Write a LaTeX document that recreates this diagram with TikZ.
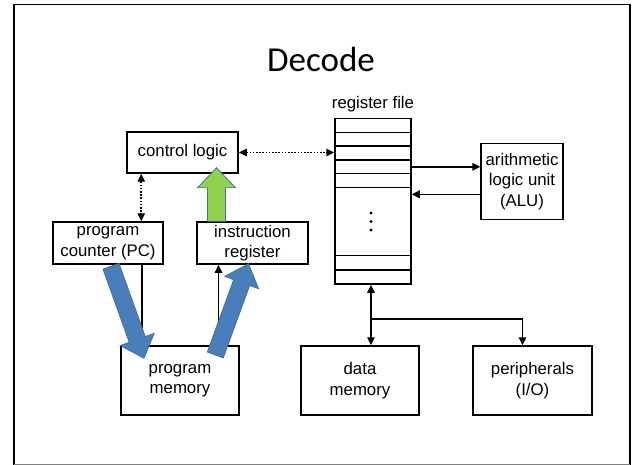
\documentclass[tikz,border=0pt]{standalone}
\usepackage{fontspec}
\setmainfont{Liberation Sans}
\newfontfamily\titlefont{Carlito}
\usetikzlibrary{arrows.meta,calc}

\definecolor{arrowblue}{HTML}{4A7EBB}
\definecolor{arrowedge}{HTML}{41719C}
\definecolor{arrowgreen}{HTML}{92D050}

% Block arrow from #1 (tail centre) to #2 (tip):
% #3 shaft half width, #4 head half width, #5 head length, #6 style
\newcommand\blockarrow[6]{%
  \coordinate (ba-h) at ($(#2)!#5!(#1)$);
  \draw[#6] ($(#1)!#3!90:(#2)$) -- ($(ba-h)!#3!90:(#2)$) -- ($(ba-h)!#4!90:(#2)$)
    -- (#2) -- ($(ba-h)!#4!-90:(#2)$) -- ($(ba-h)!#3!-90:(#2)$)
    -- ($(#1)!#3!-90:(#2)$) -- cycle;
}

\begin{document}
\begin{tikzpicture}[x=1pt,y=-1pt,
  box/.style={draw, line width=1.5pt, inner sep=0pt, align=center,
    font=\fontsize{16.8}{20.5}\selectfont},
  lbl/.style={inner sep=0pt, font=\fontsize{16.8}{20.5}\selectfont},
  conn/.style={line width=1.5pt},
  tip/.style={-{Triangle[length=8pt,width=7.5pt]}},
  tips/.style={{Triangle[length=8pt,width=7.5pt]}-{Triangle[length=8pt,width=7.5pt]}},
  dots/.style={line width=1.6pt, dash pattern=on 1.6pt off 1.6pt},
  bluearrow/.style={fill=arrowblue, draw=arrowedge, line width=0.8pt, line join=miter},
  greenarrow/.style={fill=arrowgreen, draw=arrowedge, line width=0.8pt, line join=miter}]

\useasboundingbox (0,0) rectangle (634,465);

% slide frame
\draw[line width=1.8pt] (14,464.5) -- (14,4.5) -- (630,4.5) -- (630,464.5);
\draw[gray, line width=1.5pt] (14,464.5) -- (630,464.5);

% title
\node (title) at (321,59.5) {\titlefont\fontsize{35}{40}\selectfont Decode};

% blocks
\node[box, minimum width=111pt, minimum height=41pt] (cl) at (182.5,152.5) {control logic};
\node[box, minimum width=110pt, minimum height=42pt] (pc) at (108,243) {program\\counter (PC)};
\node[box, minimum width=111pt, minimum height=42pt] (ir) at (252.5,243) {instruction\\register};
\node[box, minimum width=118pt, minimum height=69pt] (pm) at (180,380.5) {program\\memory};
\node[box, minimum width=118pt, minimum height=69pt] (dm) at (360,380.5) {data\\memory};
\node[box, minimum width=119pt, minimum height=69pt] (io) at (532.5,380.5) {peripherals\\(I/O)};
\node[box, minimum width=82pt, minimum height=76pt] (alu) at (522,181.3) {arithmetic\\logic unit\\(ALU)};

% register file with its rows
\node[box, minimum width=76pt, minimum height=165.7pt] (rf) at (373,201.2) {};
\node[lbl] (rflabel) at (373,104) {register file};
\foreach \y in {132.3,146,160,173.7,187.3,255.7,270}
  \draw[line width=1.5pt] (335,\y) -- (411,\y);
\foreach \y in {213,221.5,230}
  \fill (371,\y) circle (1.6pt);

% control paths
\draw[dots, tips] (cl.east) -- (cl.east -| rf.west);
\coordinate (x0) at ($(cl.south west)+(15,0)$);
\draw[dots, tips] (x0) -- (x0 |- pc.north);

% program memory paths
\coordinate (x1) at ($(pc.south)+(34,0)$);
\draw[conn, tip] (x1) -- (x1 |- pm.north);
\coordinate (x2) at ($(ir.south)+(-34,0)$);
\draw[conn, tip] (x2 |- pm.north) -- (x2);

% register file and ALU
\coordinate (a1) at ($(alu.west)+(0,-14.5)$);
\draw[conn, tip] (a1 -| rf.east) -- (a1);
\coordinate (a2) at ($(alu.west)+(0,13)$);
\draw[conn, tip] (a2) -- (a2 -| rf.east);

% data bus
\coordinate (x3) at ($(rf.south)+(-2,0)$);
\draw[conn, tips] (x3) -- (x3 |- dm.north);
\coordinate (jn) at ($(x3)+(0,34)$);
\coordinate (x4) at ($(io.north)+(-10,0)$);
\draw[conn, tip] (jn) -| (x4);

% decode arrow
\coordinate (g0) at ($(ir.north)+(-36,0)$);
\coordinate (g1) at ($(g0 |- cl.south)+(0,-6)$);
\blockarrow{g0}{g1}{9pt}{19pt}{20pt}{greenarrow}

% fetch arrows
\coordinate (b1s) at ($(pc.south)+(3,1.5)$);
\coordinate (b1t) at ($(pm.north)+(-36,13)$);
\blockarrow{b1s}{b1t}{8.5pt}{18pt}{20pt}{bluearrow}
\coordinate (b2s) at ($(pm.north)+(35.3,9.7)$);
\coordinate (b2t) at ($(ir.south)+(-4,-1)$);
\blockarrow{b2s}{b2t}{8.5pt}{18pt}{20pt}{bluearrow}

\end{tikzpicture}
\end{document}
